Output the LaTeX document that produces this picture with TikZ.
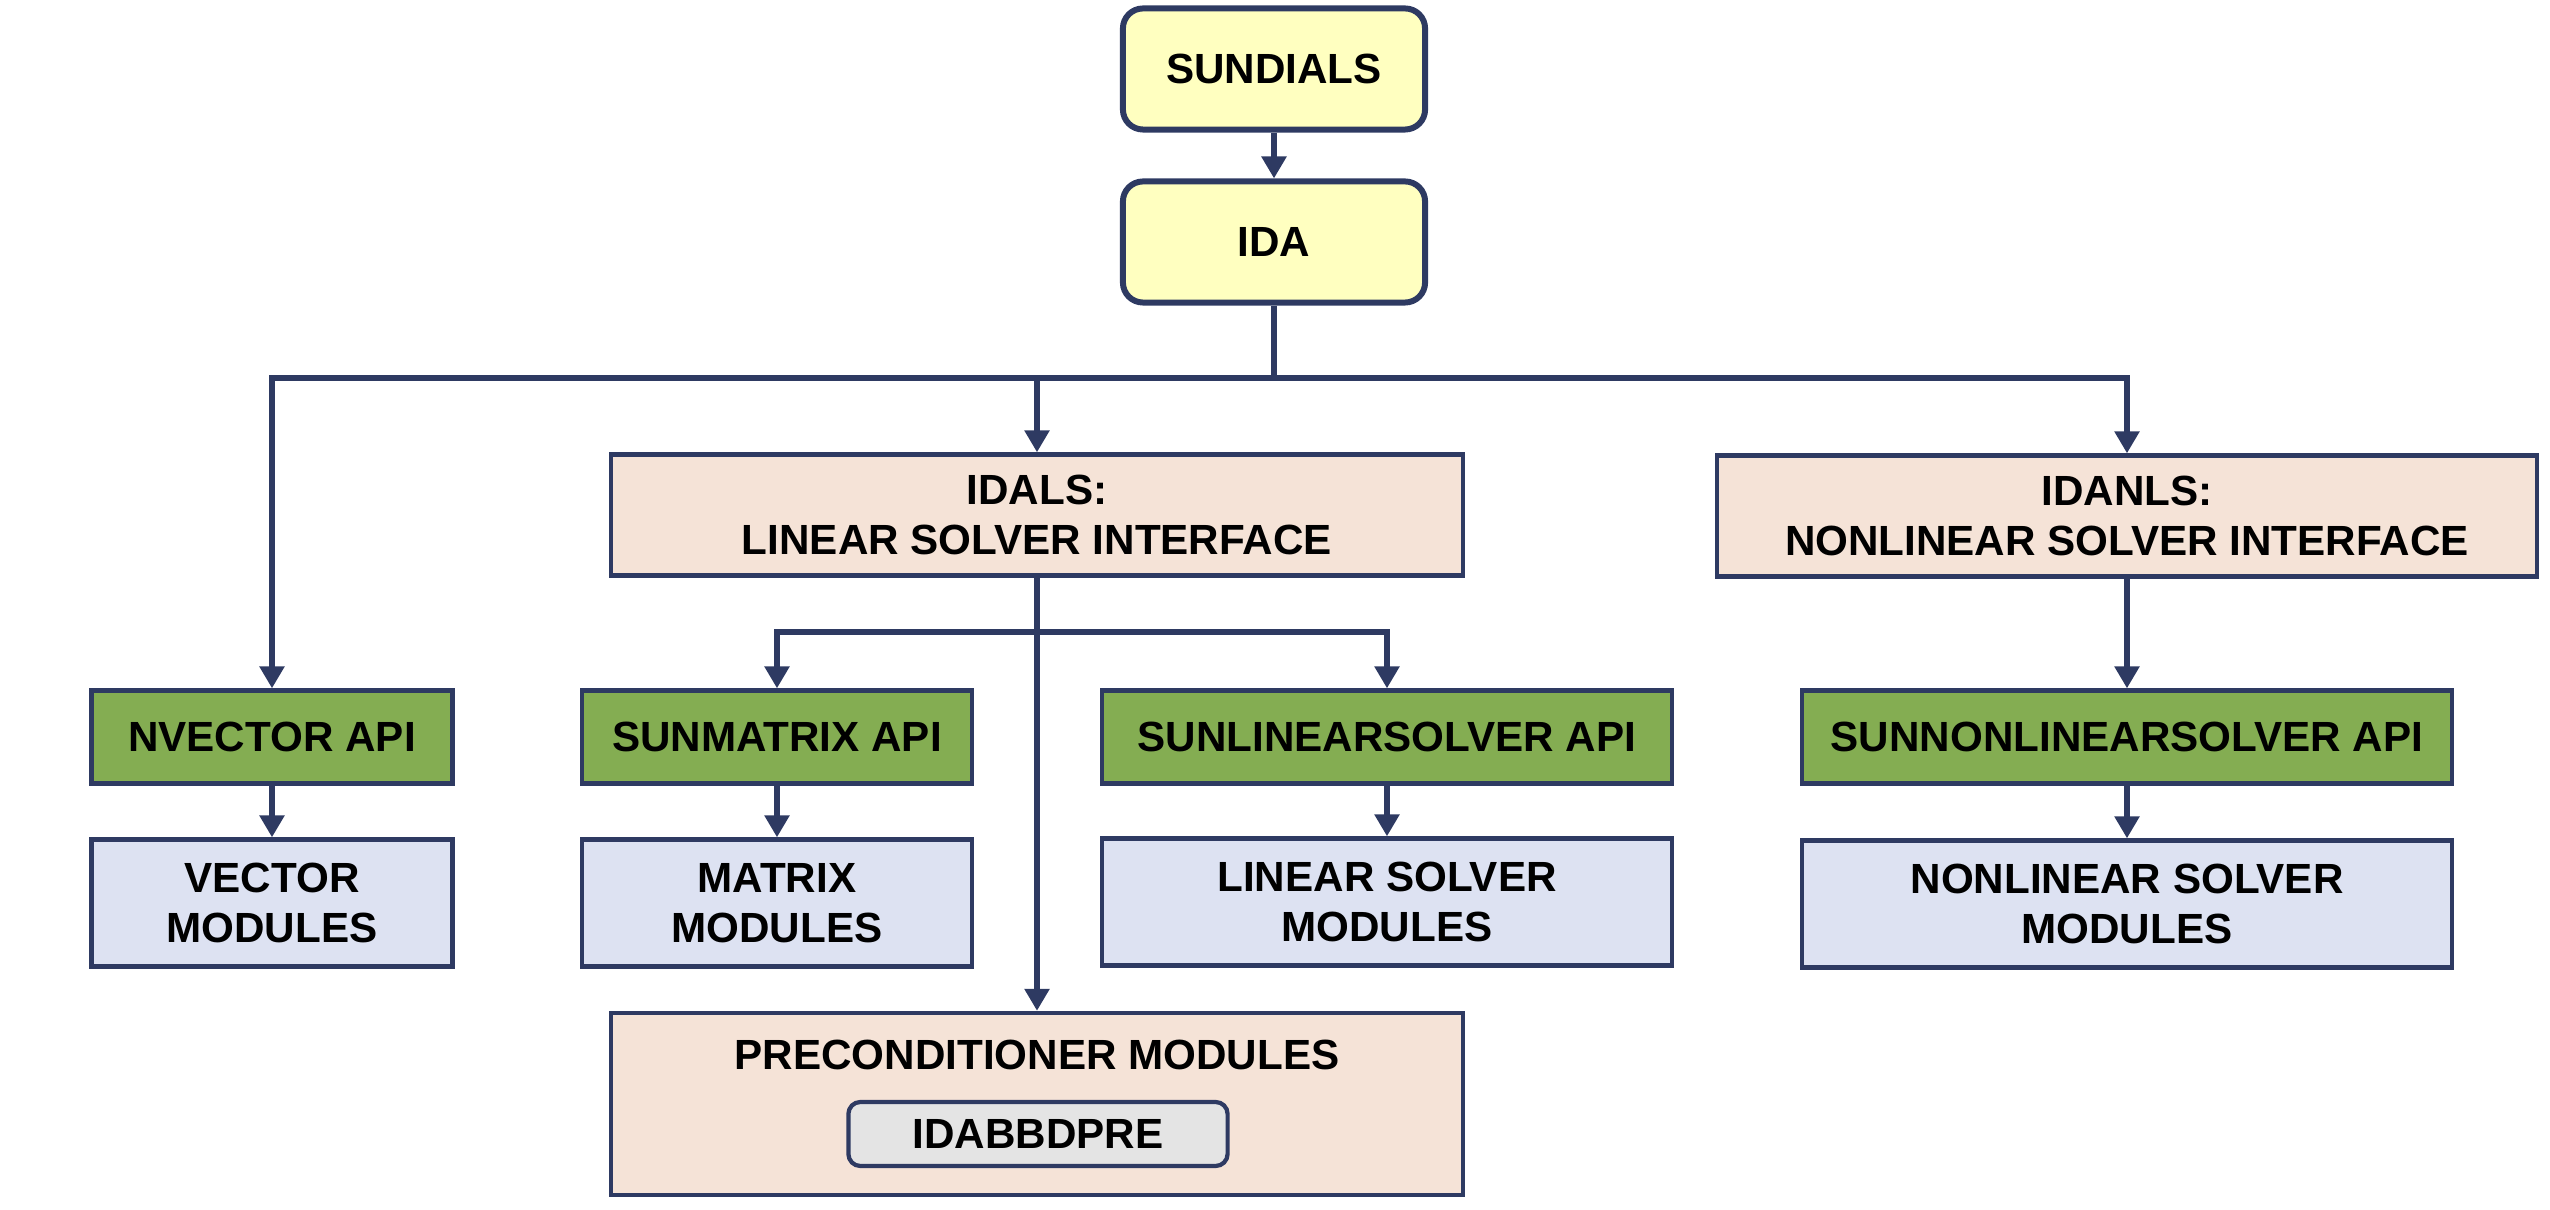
\documentclass[tikz,border=0pt]{standalone}
\usepackage{fontspec}
\setmainfont{Liberation Sans}
\usetikzlibrary{arrows.meta}

\definecolor{navy}{HTML}{2E3A62}
\definecolor{topfill}{HTML}{FFFFC0}
\definecolor{peachfill}{HTML}{F5E3D7}
\definecolor{apifill}{HTML}{84AD52}
\definecolor{modfill}{HTML}{DDE2F2}
\definecolor{prefill}{HTML}{E4E4E4}

\tikzset{
 box/.style={draw=navy, line width=1.2pt, align=center, inner sep=0pt,
  font=\bfseries\fontsize{12}{14.2}\selectfont},
 topbox/.style={box, fill=topfill, rounded corners=0.2cm, line width=1.7pt,
  minimum width=3.02cm, minimum height=1.21cm},
 ifacebox/.style={box, fill=peachfill, minimum height=1.21cm},
 apibox/.style={box, fill=apifill, minimum height=0.93cm},
 modbox/.style={box, fill=modfill, minimum height=1.27cm},
 prebox/.style={box, fill=prefill, rounded corners=0.12cm, minimum width=3.79cm, minimum height=0.64cm},
 link/.style={draw=navy, line width=1.8pt},
 arr/.style={link, -{Triangle[length=0.22cm,width=0.24cm]}}
}

\begin{document}
\begin{tikzpicture}[x=0.01cm,y=-0.01cm]
 \useasboundingbox (0,0) rectangle (2550,1210);

 \node (sundials) [topbox] at (1274,69) {SUNDIALS};
 \node (ida) [topbox] at (1274,242) {IDA};

 \node (idals) [ifacebox, minimum width=8.52cm] at (1037,515) {IDALS:\\LINEAR SOLVER INTERFACE};
 \node (idanls) [ifacebox, minimum width=8.19cm] at (2127,516) {IDANLS:\\NONLINEAR SOLVER INTERFACE};

 \node (nvec) [apibox, minimum width=3.61cm] at (272,737) {NVECTOR API};
 \node (smat) [apibox, minimum width=3.90cm] at (777,737) {SUNMATRIX API};
 \node (sls) [apibox, minimum width=5.70cm] at (1387,737) {SUNLINEARSOLVER API};
 \node (snls) [apibox, minimum width=6.50cm] at (2127,737) {SUNNONLINEARSOLVER API};

 \node (vecmod) [modbox, minimum width=3.61cm] at (272,903) {VECTOR\\MODULES};
 \node (matmod) [modbox, minimum width=3.90cm] at (777,903) {MATRIX\\MODULES};
 \node (lsmod) [modbox, minimum width=5.70cm] at (1387,902) {LINEAR SOLVER\\MODULES};
 \node (nlsmod) [modbox, minimum width=6.50cm] at (2127,904) {NONLINEAR SOLVER\\MODULES};

 % preconditioner block with its inner box
 \node (precond) [ifacebox, minimum width=8.51cm, minimum height=1.82cm] at (1037,1104) {};
 \node (precondlbl) [font=\bfseries\fontsize{12}{14.2}\selectfont] at (1037,1055) {PRECONDITIONER MODULES};
 \node (bbd) [prebox] at (1038,1134) {IDABBDPRE};

 \coordinate (bus) at (1274,378);   % main branch point below IDA
 \coordinate (subbus) at (1037,632); % branch point below IDALS

 \draw [arr] (sundials) -- (ida);
 \draw [link] (ida.south) -- (bus);
 \draw [arr] (bus) -| (nvec.north);
 \draw [arr] (bus) -| (idals.north);
 \draw [arr] (bus) -| (idanls.north);

 \draw [link] (idals.south) -- (subbus);
 \draw [arr] (subbus) -| (smat.north);
 \draw [arr] (subbus) -| (sls.north);
 \draw [arr] (idals.south) -- (precond.north);

 \draw [arr] (nvec) -- (vecmod);
 \draw [arr] (smat) -- (matmod);
 \draw [arr] (sls) -- (lsmod);
 \draw [arr] (idanls) -- (snls);
 \draw [arr] (snls) -- (nlsmod);
\end{tikzpicture}
\end{document}
